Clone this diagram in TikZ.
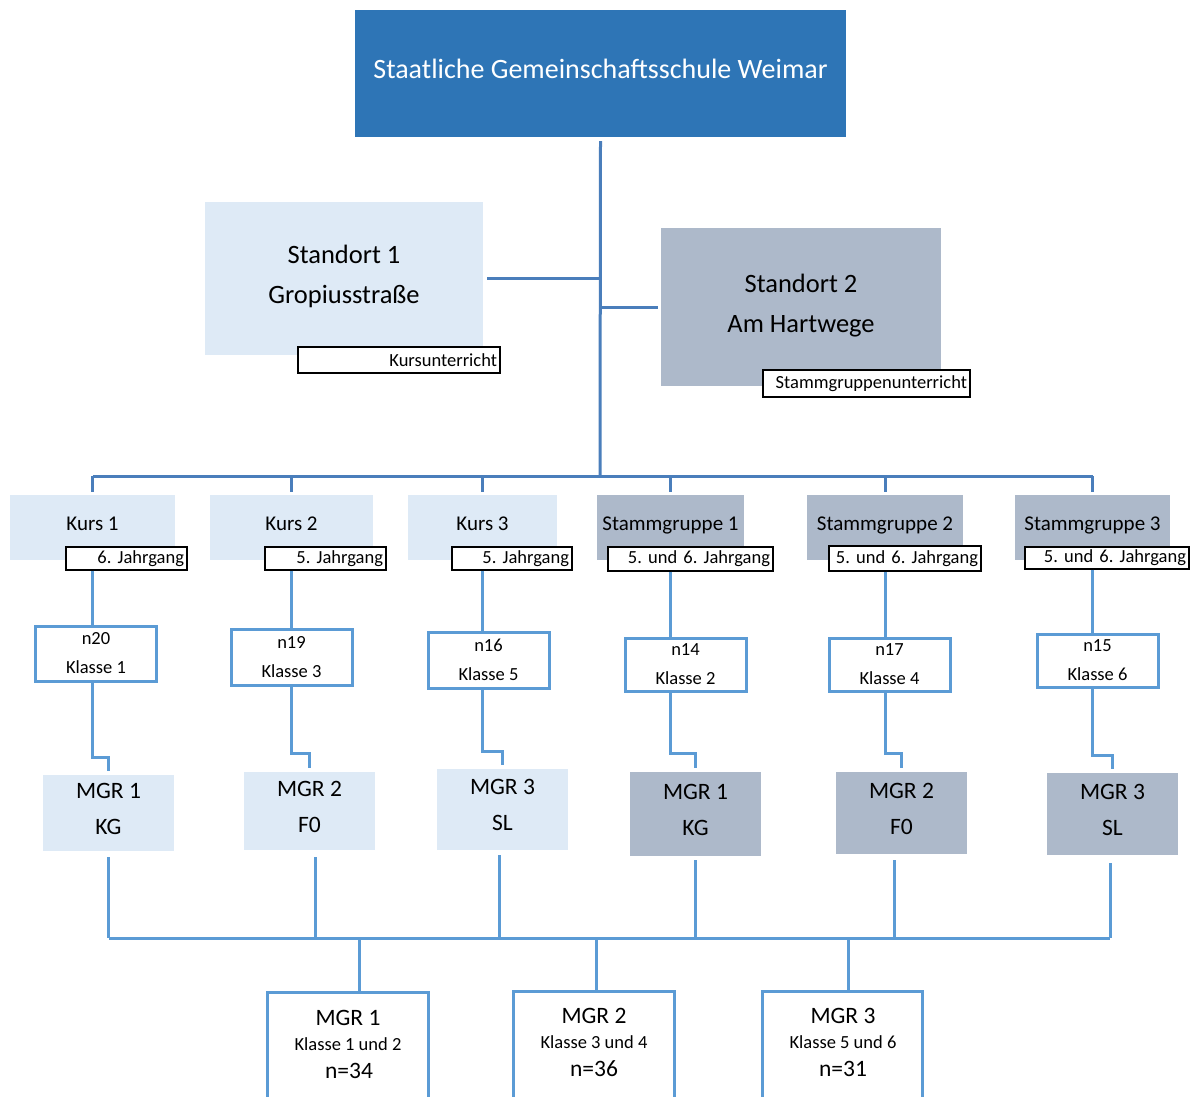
\documentclass[tikz,border=0pt]{standalone}
\usepackage{fontspec}
\setmainfont{Carlito}
\frenchspacing
\definecolor{titleblue}{HTML}{2E75B6}
\definecolor{lightbox}{HTML}{DEEAF6}
\definecolor{grayblue}{HTML}{ADB9CA}
\definecolor{lineA}{HTML}{4A7EBB}
\definecolor{lineB}{HTML}{5B9BD5}
\tikzset{
  box/.style={inner sep=0pt, align=center, text=black},
  titlebox/.style={box, fill=titleblue, text=white, font=\fontsize{28}{34}\selectfont, text depth=10pt},
  sbox/.style={box, font=\fontsize{26.5}{40}\selectfont, text depth=8pt},
  kbox/.style={box, font=\fontsize{21}{25}\selectfont, minimum height=65pt, text depth=8pt},
  tagbox/.style={draw=black, line width=1.2pt, fill=white, inner xsep=3pt, inner ysep=0pt, align=right, font=\fontsize{18.5}{21}\selectfont},
  nbox/.style={draw=lineB, line width=3pt, fill=white, inner sep=0pt, align=center, minimum width=121pt, font=\fontsize{18.5}{29}\selectfont},
  mbox/.style={box, minimum width=131pt, font=\fontsize{23.5}{36}\selectfont, text depth=9pt},
  bbox/.style={draw=lineB, line width=3pt, inner sep=0pt, minimum height=160pt, anchor=north},
  btxt/.style={inner sep=0pt},
  connA/.style={draw=lineA, line width=3pt},
  connB/.style={draw=lineB, line width=3pt},
}
\begin{document}
\begin{tikzpicture}[x=1pt, y=-1pt]
\clip (0,0) rectangle (1196,1097);
\fill[white] (0,0) rectangle (1196,1097);

% title
\node[titlebox, minimum width=491pt, minimum height=127pt] (T) at (600.5,73.5) {Staatliche Gemeinschaftsschule Weimar};

% Standorte
\node[sbox, fill=lightbox, minimum width=278pt, minimum height=153pt] (S1) at (344,278.5) {Standort 1\\Gropiusstraße};
\node[sbox, fill=grayblue, minimum width=280pt, minimum height=158pt] (S2) at (801,307) {Standort 2\\Am Hartwege};
\node[tagbox, minimum width=202pt, minimum height=26pt, text width=196pt] (TS1) at (399,360) {Kursunterricht};
\node[tagbox, minimum width=207pt, minimum height=27pt, text width=201pt] (TS2) at (866.5,383.5) {Stammgruppenunterricht};

\coordinate (hub) at (600,476);
\draw[connA] ([yshift=-4pt]T.south) -- (hub);
\draw[connA] ([xshift=4pt]S1.east) -- (S1.east -| hub);
\draw[connA] ([xshift=-3pt]S2.west) -- (S2.west -| hub);

% Kurs / Stammgruppe row
\node[kbox, fill=lightbox, minimum width=165pt] (K1) at (92.5,527.5) {Kurs 1};
\node[kbox, fill=lightbox, minimum width=163pt] (K2) at (291.5,527.5) {Kurs 2};
\node[kbox, fill=lightbox, minimum width=149pt] (K3) at (482.5,527.5) {Kurs 3};
\node[kbox, fill=grayblue, minimum width=147pt] (K4) at (670.5,527.5) {Stammgruppe 1};
\node[kbox, fill=grayblue, minimum width=156pt] (K5) at (885,527.5) {Stammgruppe 2};
\node[kbox, fill=grayblue, minimum width=155pt] (K6) at (1092.5,527.5) {Stammgruppe 3};

\draw[connA] (K1.north |- hub) -- (K6.north |- hub);
\foreach \k in {K1,K2,K3,K4,K5,K6}{
  \draw[connA] (\k.north |- hub) -- ([yshift=3pt]\k.north);
}

% Jahrgang tags
\node[tagbox, minimum width=121pt, minimum height=23pt, text width=115pt] (J1) at (126.5,558.5) {6. Jahrgang};
\node[tagbox, minimum width=121pt, minimum height=23pt, text width=115pt] (J2) at (325.5,558.5) {5. Jahrgang};
\node[tagbox, minimum width=120pt, minimum height=23pt, text width=114pt] (J3) at (512,558.5) {5. Jahrgang};
\node[tagbox, minimum width=165pt, minimum height=24pt, text width=159pt] (J4) at (690.5,559) {5. und 6. Jahrgang};
\node[tagbox, minimum width=152pt, minimum height=25pt, text width=146pt] (J5) at (905,558.5) {5. und 6. Jahrgang};
\node[tagbox, minimum width=164pt, minimum height=22pt, text width=158pt] (J6) at (1107,558) {5. und 6. Jahrgang};

% n boxes
\node[nbox, minimum height=55pt] (N1) at (96,653.5) {n20\\Klasse 1};
\node[nbox, minimum height=56pt] (N2) at (291.5,657) {n19\\Klasse 3};
\node[nbox, minimum height=56pt] (N3) at (488.5,660) {n16\\Klasse 5};
\node[nbox, minimum height=53pt] (N4) at (685.5,664.5) {n14\\Klasse 2};
\node[nbox, minimum height=53pt] (N5) at (889.5,664.5) {n17\\Klasse 4};
\node[nbox, minimum height=53pt] (N6) at (1097.5,660.5) {n15\\Klasse 6};

\foreach \i in {1,...,6}{
  \draw[connB] (J\i.south -| K\i.south) -- (N\i.north -| K\i.south);
}

% MGR boxes
\node[mbox, fill=lightbox, minimum height=76pt] (M1) at (108.5,813) {MGR 1\\KG};
\node[mbox, fill=lightbox, minimum height=78pt] (M2) at (309.5,811) {MGR 2\\F0};
\node[mbox, fill=lightbox, minimum height=81pt] (M3) at (502.5,809.5) {MGR 3\\SL};
\node[mbox, fill=grayblue, minimum height=84pt] (M4) at (695.5,814) {MGR 1\\KG};
\node[mbox, fill=grayblue, minimum height=82pt] (M5) at (901.5,813) {MGR 2\\F0};
\node[mbox, fill=grayblue, minimum height=82pt] (M6) at (1112.5,814) {MGR 3\\SL};

\coordinate (St1) at (92,757);
\coordinate (St2) at (291.5,753);
\coordinate (St3) at (482.5,751);
\coordinate (St4) at (670.5,753);
\coordinate (St5) at (885,753);
\coordinate (St6) at (1092.5,755);
\foreach \i in {1,...,6}{
  \draw[connB] (N\i.south -| St\i) -- (St\i) -| ([yshift=4pt]M\i.north);
}

% lower bar
\coordinate (lb) at (0,938);
\draw[connB] ([yshift=-6pt]M1.south) -- (M1.south |- lb);
\draw[connB] ([xshift=5.5pt,yshift=-7pt]M2.south) -- ([xshift=5.5pt]M2.south |- lb);
\draw[connB] ([xshift=-3.5pt,yshift=-5pt]M3.south) -- ([xshift=-3.5pt]M3.south |- lb);
\draw[connB] ([yshift=-4pt]M4.south) -- (M4.south |- lb);
\draw[connB] ([xshift=-7.5pt,yshift=-6pt]M5.south) -- ([xshift=-7.5pt]M5.south |- lb);
\draw[connB] ([xshift=-2.5pt,yshift=-8pt]M6.south) -- ([xshift=-2.5pt]M6.south |- lb);
\draw[connB] (M1.south |- lb) -- ([xshift=-2.5pt]M6.south |- lb);

% bottom boxes
\node[bbox, minimum width=161pt] (B1) at (347.5,991) {};
\node[bbox, minimum width=161pt] (B2) at (593.5,990) {};
\node[bbox, minimum width=160pt] (B3) at (842,990) {};
\draw[connB] ([xshift=11.5pt]B1.north |- lb) -- ([xshift=11.5pt]B1.north);
\draw[connB] ([xshift=2.5pt]B2.north |- lb) -- ([xshift=2.5pt]B2.north);
\draw[connB] ([xshift=6pt]B3.north |- lb) -- ([xshift=6pt]B3.north);

\node[btxt, font=\fontsize{23.5}{28}\selectfont] (B1a) at (348,1018) {MGR 1};
\node[btxt, font=\fontsize{18.5}{21}\selectfont] (B1b) at (348,1044) {Klasse 1 und 2};
\node[btxt, font=\fontsize{23.5}{28}\selectfont] (B1c) at (349,1071) {n=34};
\node[btxt, font=\fontsize{23.5}{28}\selectfont] (B2a) at (594,1016) {MGR 2};
\node[btxt, font=\fontsize{18.5}{21}\selectfont] (B2b) at (594,1042) {Klasse 3 und 4};
\node[btxt, font=\fontsize{23.5}{28}\selectfont] (B2c) at (594,1069) {n=36};
\node[btxt, font=\fontsize{23.5}{28}\selectfont] (B3a) at (843,1016) {MGR 3};
\node[btxt, font=\fontsize{18.5}{21}\selectfont] (B3b) at (843,1042) {Klasse 5 und 6};
\node[btxt, font=\fontsize{23.5}{28}\selectfont] (B3c) at (843,1069) {n=31};
\end{tikzpicture}
\end{document}
